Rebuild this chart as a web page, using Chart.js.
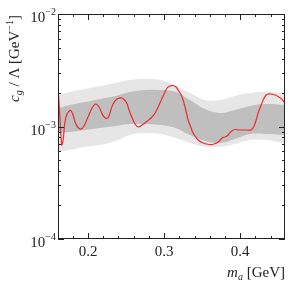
<!DOCTYPE html>
<html>
<head>
<meta charset="utf-8">
<script src="https://cdn.jsdelivr.net/npm/chart.js@4/dist/chart.umd.min.js"></script>
<style>
  html, body { margin: 0; padding: 0; background: #fff; }
  #wrap { width: 291px; height: 283px; }
</style>
</head>
<body>
<div id="wrap"><canvas id="chart" width="291" height="283"></canvas></div>
<script>
// band grid (m_a in GeV) and band edges (c_g / Lambda in GeV^-1)
const massGrid = [0.1605, 0.176, 0.196, 0.216, 0.236, 0.255, 0.275, 0.295, 0.315, 0.334, 0.354, 0.374, 0.393, 0.413, 0.433, 0.459];
const outerUpper = [1.905e-3, 2.03e-3, 2.15e-3, 2.29e-3, 2.44e-3, 2.59e-3, 2.64e-3, 2.59e-3, 2.29e-3, 1.99e-3, 1.72e-3, 1.72e-3, 1.87e-3, 1.99e-3, 2.03e-3, 1.99e-3];
const outerLower = [0.593e-3, 0.617e-3, 0.66e-3, 0.685e-3, 0.743e-3, 0.84e-3, 0.876e-3, 0.858e-3, 0.79e-3, 0.713e-3, 0.66e-3, 0.66e-3, 0.70e-3, 0.76e-3, 0.76e-3, 0.713e-3];
const innerUpper = [1.46e-3, 1.553e-3, 1.651e-3, 1.756e-3, 1.867e-3, 2.03e-3, 2.11e-3, 2.11e-3, 2.03e-3, 1.72e-3, 1.43e-3, 1.318e-3, 1.40e-3, 1.521e-3, 1.585e-3, 1.553e-3];
const innerLower = [0.876e-3, 0.894e-3, 0.931e-3, 0.97e-3, 1.01e-3, 1.052e-3, 1.052e-3, 1.031e-3, 0.97e-3, 0.84e-3, 0.743e-3, 0.713e-3, 0.774e-3, 0.858e-3, 0.858e-3, 0.84e-3];

// observed limit (red curve)
const limitMass = [0.1605, 0.1632, 0.1654, 0.1671, 0.1697, 0.1724, 0.1772, 0.1803, 0.1829, 0.1868, 0.1908, 0.1947,
  0.2, 0.2053, 0.2101, 0.2145, 0.218, 0.2211, 0.2246, 0.2276, 0.2312, 0.2355, 0.2395, 0.2443, 0.2474, 0.2509,
  0.2539, 0.2575, 0.2618, 0.2662, 0.2711, 0.2772, 0.2829, 0.2882, 0.2934, 0.2987, 0.3039, 0.3079, 0.3118, 0.3158,
  0.3184, 0.3224, 0.325, 0.3289, 0.3316, 0.3355, 0.3382, 0.3447, 0.3513, 0.3601, 0.3658, 0.3711, 0.375, 0.3776,
  0.3816, 0.3842, 0.3882, 0.393, 0.3987, 0.4039, 0.4092, 0.4145, 0.4184, 0.4211, 0.4237, 0.4276, 0.4309, 0.4342,
  0.4375, 0.4408, 0.4461, 0.45, 0.4553, 0.4588];
const limitCoupling = [2.244e-3, 1.142e-3, 0.685e-3, 0.743e-3, 1.096e-3, 1.292e-3, 1.388e-3, 1.265e-3, 1.096e-3, 0.98e-3, 0.95e-3, 1.01e-3,
  1.215e-3, 1.46e-3, 1.585e-3, 1.49e-3, 1.318e-3, 1.215e-3, 1.178e-3, 1.24e-3, 1.49e-3, 1.686e-3, 1.774e-3, 1.792e-3, 1.738e-3, 1.618e-3,
  1.402e-3, 1.215e-3, 1.052e-3, 0.99e-3, 1.031e-3, 1.108e-3, 1.19e-3, 1.318e-3, 1.553e-3, 1.867e-3, 2.199e-3, 2.291e-3, 2.314e-3, 2.244e-3,
  2.11e-3, 1.905e-3, 1.72e-3, 1.373e-3, 1.142e-3, 0.97e-3, 0.876e-3, 0.759e-3, 0.713e-3, 0.692e-3, 0.699e-3, 0.728e-3, 0.774e-3, 0.798e-3,
  0.815e-3, 0.84e-3, 0.903e-3, 0.94e-3, 0.931e-3, 0.931e-3, 0.931e-3, 0.931e-3, 1.01e-3, 1.142e-3, 1.318e-3, 1.553e-3, 1.756e-3, 1.905e-3,
  1.945e-3, 1.945e-3, 1.905e-3, 1.848e-3, 1.738e-3, 1.618e-3];

const xMajorTicks = [0.2, 0.3, 0.4];
const xTickLabels = ['0.2', '0.3', '0.4'];
const yDecades = [-4, -3, -2];

const X_MIN = 0.1605, X_MAX = 0.459;
const SERIF = '"Liberation Serif", "DejaVu Serif", serif';

const pts = (xs, ys) => xs.map((x, i) => ({ x, y: ys[i] }));

// draw a run of text pieces: [text, fontSize, italic, dy]
function drawRich(ctx, parts, x, y, align) {
    const font = p => `${p[2] ? 'italic ' : ''}${p[1]}px ${SERIF}`;
    let total = 0;
    parts.forEach(p => { ctx.font = font(p); total += ctx.measureText(p[0]).width; });
    let cx = align === 'right' ? x - total : align === 'center' ? x - total / 2 : x;
    parts.forEach(p => {
        ctx.font = font(p);
        ctx.fillText(p[0], cx, y + (p[3] || 0));
        cx += ctx.measureText(p[0]).width;
    });
    return total;
}

const framePlugin = {
    id: 'frame',
    afterDraw(chart) {
        const { ctx, chartArea: a, scales: { x, y } } = chart;
        ctx.save();
        ctx.strokeStyle = '#222';
        ctx.fillStyle = '#222';
        ctx.lineWidth = 1;
        ctx.strokeRect(Math.round(a.left) + 0.5, Math.round(a.top) + 0.5,
            Math.round(a.right - a.left) - 1, Math.round(a.bottom - a.top) - 1);

        ctx.beginPath();
        // x ticks, every 0.02, major at 0.1
        for (let k = 8; k <= 23; k++) {
            const v = k * 0.02;
            if (v < X_MIN || v > X_MAX) continue;
            const px = Math.round(x.getPixelForValue(v)) + 0.5;
            const len = (k % 5 === 0) ? 6 : 3;
            ctx.moveTo(px, a.bottom); ctx.lineTo(px, a.bottom - len);
            ctx.moveTo(px, a.top); ctx.lineTo(px, a.top + len);
        }
        // y ticks, log decades with minors
        yDecades.forEach(e => {
            for (let m = 1; m <= 9; m++) {
                if (e === -2 && m > 1) break;
                const py = Math.round(y.getPixelForValue(m * Math.pow(10, e))) + 0.5;
                const len = m === 1 ? 6 : 3;
                ctx.moveTo(a.left, py); ctx.lineTo(a.left + len, py);
                ctx.moveTo(a.right, py); ctx.lineTo(a.right - len, py);
            }
        });
        ctx.stroke();

        ctx.textBaseline = 'alphabetic';
        // x tick labels
        xMajorTicks.forEach((v, i) => {
            drawRich(ctx, [[xTickLabels[i], 15, false, 0]], x.getPixelForValue(v), a.bottom + 17, 'center');
        });
        // y tick labels
        yDecades.forEach(e => {
            const py = y.getPixelForValue(Math.pow(10, e));
            drawRich(ctx, [['10', 15, false, 0], ['\u2212' + (-e), 10, false, -7]], a.left - 2, py + 8, 'right');
        });
        // x title
        drawRich(ctx, [['m', 15, true, 0], ['a', 10, true, 3], [' [GeV]', 15, false, 0]], a.right, a.bottom + 38, 'right');

        // y title, rotated
        const yParts = [['c', 15, true, 0], ['g', 10, true, 3], [' / \u039B [GeV', 15, false, 0], ['\u22121', 10, false, -6], [']', 15, false, 0]];
        let w = 0;
        yParts.forEach(p => { ctx.font = `${p[2] ? 'italic ' : ''}${p[1]}px ${SERIF}`; w += ctx.measureText(p[0]).width; });
        ctx.translate(19, a.top + 1 + w);
        ctx.rotate(-Math.PI / 2);
        drawRich(ctx, yParts, 0, 0, 'left');
        ctx.restore();
    }
};

const band = (data, extra) => Object.assign({
    data, borderWidth: 0, pointRadius: 0, tension: 0.4, fill: false
}, extra);

new Chart(document.getElementById('chart'), {
    type: 'line',
    data: {
        datasets: [
            band(pts(massGrid, outerLower), { order: 3 }),
            band(pts(massGrid, outerUpper), { order: 3, fill: '-1', backgroundColor: '#e6e6e6' }),
            band(pts(massGrid, innerLower), { order: 2 }),
            band(pts(massGrid, innerUpper), { order: 2, fill: '-1', backgroundColor: '#bfbfbf' }),
            {
                data: pts(limitMass, limitCoupling),
                borderColor: '#ee2a2a',
                borderWidth: 1.2,
                pointRadius: 0,
                tension: 0.3,
                fill: false,
                order: 1
            }
        ]
    },
    options: {
        responsive: false,
        animation: false,
        layout: { padding: { left: 58, top: 14, right: 6, bottom: 44 } },
        plugins: { legend: { display: false }, tooltip: { enabled: false } },
        scales: {
            x: { type: 'linear', min: X_MIN, max: X_MAX, display: false },
            y: { type: 'logarithmic', min: 1e-4, max: 1e-2, display: false }
        }
    },
    plugins: [framePlugin]
});
</script>
</body>
</html>
